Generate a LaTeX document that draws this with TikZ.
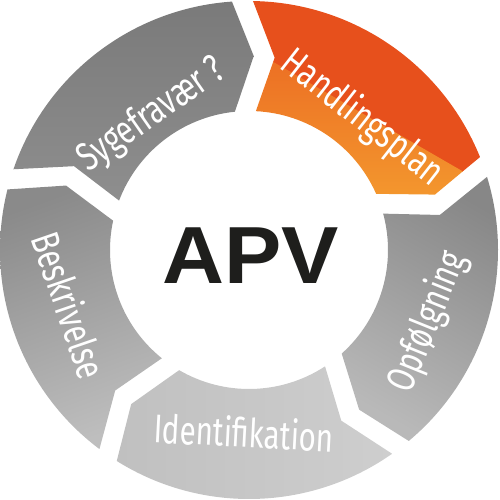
\documentclass[tikz,border=0pt]{standalone}
\usepackage{fontspec}
\setmainfont{Liberation Sans}
\newfontfamily\labfont[FakeStretch=0.74]{Fira Sans}
\newfontfamily\apvfont[FakeStretch=1.06]{Liberation Sans Bold}
\definecolor{orA}{RGB}{231,80,28}
\definecolor{orB}{RGB}{249,184,54}
\definecolor{apvc}{RGB}{30,30,28}
\newcommand\setgap[1]{\pgfmathsetmacro\gtr{#1+72}\pgfmathsetmacro\glead{#1}}
\newcommand\segpath{%
  ({\gtr-2.42}:249pt) arc[start angle={\gtr-2.42}, end angle={\glead+2.42}, radius=249pt]
    -- ({\glead-6+3.1}:194pt) -- ({\glead+4.33}:139pt)
    arc[start angle={\glead+4.33}, end angle={\gtr-4.33}, radius=139pt]
    -- ({\gtr-6-3.1}:194pt) -- cycle}
\newcommand\ringseg[2]{\setgap{#1}\path[#2] \segpath;}
\tikzset{lab/.style={text=white, inner sep=0pt, font=\labfont\fontsize{40pt}{44pt}\selectfont}}
\begin{document}
\begin{tikzpicture}
\useasboundingbox (-249pt,-250pt) rectangle (251pt,250pt);
\begin{scope}
  \setgap{19.5}
  \clip \segpath;
  \begin{scope}[rotate=-30]
    \fill[orB] (-300pt,-300pt) rectangle (300pt,100.5pt);
    \fill[orA] (-300pt,174.5pt) rectangle (300pt,300pt);
    \shade[bottom color=orB, top color=orA] (-300pt,100pt) rectangle (300pt,175pt);
  \end{scope}
\end{scope}
\ringseg{-52.5}{top color={rgb,255:red,135;green,135;blue,135}, bottom color={rgb,255:red,185;green,185;blue,185}, shading angle=-30}
\ringseg{-124.5}{left color={rgb,255:red,192;green,192;blue,192}, right color={rgb,255:red,206;green,206;blue,206}}
\ringseg{-196.5}{top color={rgb,255:red,138;green,138;blue,138}, bottom color={rgb,255:red,190;green,190;blue,190}, shading angle=20}
\ringseg{91.5}{top color={rgb,255:red,122;green,122;blue,122}, bottom color={rgb,255:red,142;green,142;blue,142}}
\node[lab, rotate=-38] (handl) at (113pt,132pt) {Handlingsplan};
\node[lab, rotate=68] (opf) at (179pt,-72pt) {Opfølgning};
\node[lab, rotate=-3] (ident) at (-5pt,-182pt) {Identifikation};
\node[lab, rotate=-71] (beskr) at (-179pt,-55pt) {Beskrivelse};
\node[lab, rotate=35] (syge) at (-97pt,135pt) {Sygefravær ?};
\node[text=apvc, inner sep=0pt, anchor=base, font=\apvfont\fontsize{81pt}{90pt}\selectfont] (apv) at (1.5pt,-34pt) {APV};
\end{tikzpicture}
\end{document}
